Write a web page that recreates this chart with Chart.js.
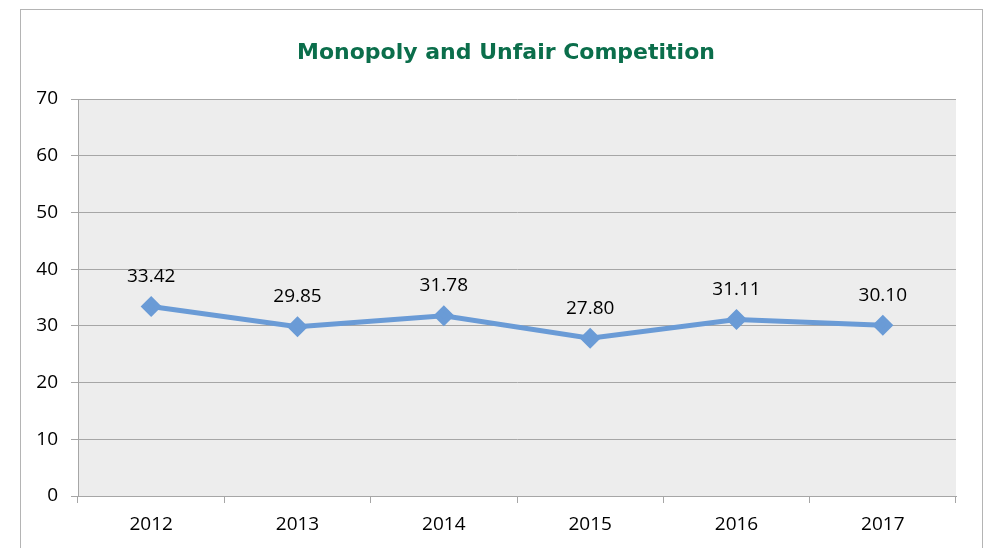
<!DOCTYPE html>
<html>
<head>
<meta charset="utf-8">
<script src="https://cdn.jsdelivr.net/npm/chart.js@4"></script>
<style>
  html, body { margin: 0; padding: 0; background: #fff; }
  #wrap { width: 997px; height: 548px; position: relative; }
</style>
</head>
<body>
<div id="wrap"><canvas id="chart" width="997" height="548"></canvas></div>
<script>
const years = ["2012", "2013", "2014", "2015", "2016", "2017"];
const scores = [33.42, 29.85, 31.78, 27.80, 31.11, 30.10];
const yTicks = [0, 10, 20, 30, 40, 50, 60, 70];
const chartTitle = "Monopoly and Unfair Competition";

const LABEL_FONT = "'Open Sans', 'Liberation Sans', sans-serif";

// frame, grey plot background and the title (centred on the frame, not the plot)
const backdrop = {
  id: "backdrop",
  beforeDraw(chart) {
    const { ctx, chartArea } = chart;
    ctx.save();
    ctx.fillStyle = "#fff";
    ctx.fillRect(0, 0, chart.width, chart.height);
    ctx.strokeStyle = "#b4b4b4";
    ctx.lineWidth = 1;
    ctx.strokeRect(20.5, 9.5, 962, 560);
    ctx.fillStyle = "#ededed";
    ctx.fillRect(chartArea.left, chartArea.top, chartArea.right - chartArea.left, chartArea.bottom - chartArea.top);
    ctx.font = "bold 22px 'DejaVu Sans', sans-serif";
    ctx.fillStyle = "#0b6e4b";
    ctx.textAlign = "center";
    ctx.textBaseline = "middle";
    ctx.fillText(chartTitle, 506, 53);
    ctx.restore();
  },
};

// value labels above each point
const valueLabels = {
  id: "valueLabels",
  afterDatasetsDraw(chart) {
    const { ctx } = chart;
    const meta = chart.getDatasetMeta(0);
    ctx.save();
    ctx.font = "19px " + LABEL_FONT;
    ctx.fillStyle = "#000";
    ctx.textAlign = "center";
    ctx.textBaseline = "middle";
    meta.data.forEach((pt, i) => {
      ctx.fillText(scores[i].toFixed(2), pt.x, pt.y - 30);
    });
    ctx.restore();
  },
};

new Chart(document.getElementById("chart").getContext("2d"), {
  type: "line",
  data: {
    labels: years,
    datasets: [
      {
        data: scores,
        borderColor: "#6a9bd6",
        backgroundColor: "#6a9bd6",
        borderWidth: 5,
        pointStyle: "rectRot",
        pointRadius: 7,
        pointHoverRadius: 7,
        tension: 0,
      },
    ],
  },
  options: {
    responsive: false,
    animation: false,
    events: [],
    layout: { padding: { top: 99, right: 41, left: 0, bottom: 0 } },
    plugins: {
      legend: { display: false },
      tooltip: { enabled: false },
      title: { display: false },
    },
    scales: {
      x: {
        offset: true,
        grid: {
          display: true,
          offset: true,
          drawOnChartArea: false,
          drawTicks: true,
          tickLength: 7,
          color: "#a6a6a6",
        },
        border: { display: true, color: "#a6a6a6" },
        ticks: {
          color: "#000",
          font: { family: LABEL_FONT, size: 19 },
          padding: 10,
          maxRotation: 0,
        },
        afterFit(scale) { scale.height = 52; },
      },
      y: {
        min: 0,
        max: 70,
        afterBuildTicks(scale) { scale.ticks = yTicks.map((v) => ({ value: v })); },
        grid: { color: "#a6a6a6", tickLength: 7, drawTicks: true },
        border: { display: true, color: "#a6a6a6" },
        ticks: {
          color: "#000",
          font: { family: LABEL_FONT, size: 19 },
          padding: 13,
        },
        afterFit(scale) { scale.width = 78; },
      },
    },
  },
  plugins: [backdrop, valueLabels],
});
</script>
</body>
</html>
